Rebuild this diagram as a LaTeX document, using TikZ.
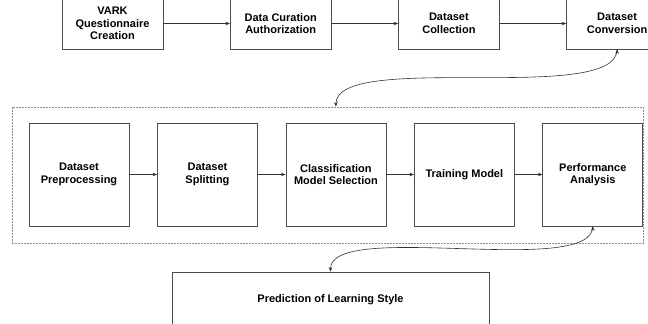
\documentclass[tikz,border=0pt]{standalone}
\usepackage{fontspec}
\setmainfont{Liberation Sans}
\usetikzlibrary{positioning, arrows.meta}

\begin{document}
\begin{tikzpicture}
  [x=1pt,y=1pt,
   font=\fontsize{11}{12.5}\selectfont\bfseries,
   stage/.style={rectangle,draw=black!70,line width=0.7pt,align=center,minimum width=101pt,minimum height=51pt},
   task/.style={rectangle,draw=black!70,line width=0.7pt,align=center,minimum width=100pt,minimum height=103pt},
   group/.style={rectangle,draw=black!45,dash pattern=on 2pt off 1pt,line width=0.7pt,minimum width=631pt,minimum height=136pt},
   result/.style={rectangle,draw=black!70,line width=0.7pt,minimum width=317pt,minimum height=56pt},
   flow/.style={-{Stealth[length=4.5pt,width=3.5pt]},draw=black!80,line width=0.6pt}]

  \useasboundingbox (0,0) rectangle (648,324);

  % data collection row
  \node[stage] (vark) at (112.5,300.5) {VARK\\Questionnaire\\Creation};
  \node[stage] (curation)   [right=66.5pt of vark]      {Data Curation\\Authorization};
  \node[stage] (collection) [right=66.5pt of curation]  {Dataset\\Collection};
  \node[stage] (conversion) [right=66.5pt of collection] {Dataset\\Conversion};

  % model pipeline
  \node[group] (pipeline) at (327.5,149) {};
  \node[task] (preprocess) at (79,149.5) {Dataset\\Preprocessing};
  \node[task] (splitting) [right=27.75pt of preprocess] {Dataset\\Splitting};
  \node[task] (selection) [right=27.75pt of splitting]  {Classification\\Model Selection};
  \node[task] (training)  [right=27.75pt of selection]  {Training Model};
  \node[task] (analysis)  [right=27.75pt of training]   {Performance\\Analysis};

  \node[result] (prediction) at (330.5,24) {Prediction of Learning Style};

\path [flow] (vark) edge (curation) (curation) edge (collection) (collection) edge (conversion);
\path [flow] (preprocess) edge (splitting) (splitting) edge (selection)
             (selection) edge (training) (training) edge (analysis);
\path [flow] (conversion.south) edge [out=-90,in=90,looseness=0.5] (pipeline.north -| selection.north);
\path [flow] (analysis.south) edge [out=-90,in=90,looseness=0.5] (prediction.north);

\end{tikzpicture}
\end{document}
